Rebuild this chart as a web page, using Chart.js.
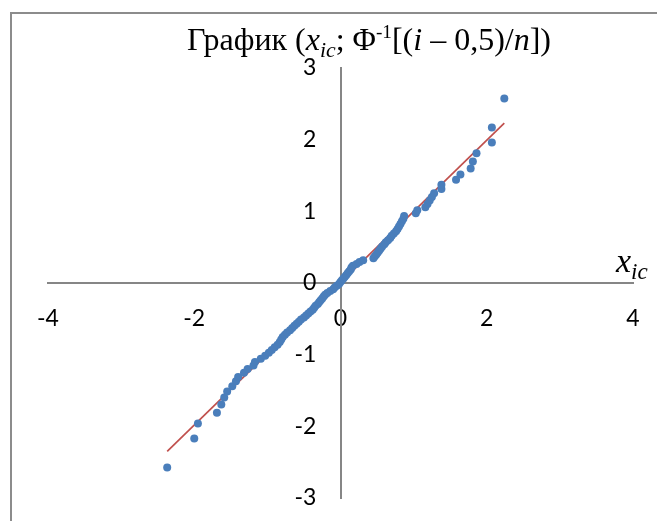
<!DOCTYPE html>
<html>
<head>
<meta charset="utf-8">
<script src="https://cdn.jsdelivr.net/npm/chart.js"></script>
<style>
  body { margin: 0; background: #fff; }
  canvas { display: block; }
</style>
</head>
<body>
<canvas id="qqChart" width="657" height="521"></canvas>
<script>
// sample values x_ic (sorted) and normal quantiles Φ^-1[(i - 0,5)/n], n = 100
var xValues = [
  -2.37, -2.00, -1.95, -1.69, -1.63, -1.59, -1.55, -1.48, -1.43, -1.40,
  -1.32, -1.27, -1.19, -1.17, -1.09, -1.03, -0.98, -0.94, -0.90, -0.86,
  -0.83, -0.81, -0.79, -0.76, -0.73, -0.69, -0.66, -0.63, -0.60, -0.57,
  -0.54, -0.50, -0.47, -0.44, -0.41, -0.38, -0.36, -0.34, -0.31, -0.29,
  -0.27, -0.25, -0.23, -0.21, -0.18, -0.14, -0.10, -0.08, -0.05, -0.02,
  0.00, 0.02, 0.04, 0.06, 0.08, 0.10, 0.12, 0.14, 0.15, 0.17,
  0.22, 0.26, 0.31, 0.45, 0.47, 0.49, 0.51, 0.53, 0.55, 0.57,
  0.60, 0.62, 0.65, 0.68, 0.70, 0.73, 0.76, 0.78, 0.80, 0.82,
  0.84, 0.86, 0.87, 1.03, 1.05, 1.16, 1.19, 1.22, 1.25, 1.28,
  1.38, 1.38, 1.58, 1.64, 1.78, 1.81, 1.86, 2.07, 2.07, 2.24
];
var yValues = [
  -2.576, -2.170, -1.960, -1.812, -1.695, -1.598, -1.514, -1.440, -1.372, -1.311,
  -1.254, -1.200, -1.150, -1.103, -1.058, -1.015, -0.974, -0.935, -0.896, -0.860,
  -0.824, -0.789, -0.755, -0.722, -0.690, -0.659, -0.628, -0.598, -0.568, -0.539,
  -0.510, -0.482, -0.454, -0.426, -0.399, -0.372, -0.345, -0.319, -0.292, -0.266,
  -0.240, -0.215, -0.189, -0.164, -0.138, -0.113, -0.088, -0.063, -0.038, -0.013,
  0.013, 0.038, 0.063, 0.088, 0.113, 0.138, 0.164, 0.189, 0.215, 0.240,
  0.266, 0.292, 0.319, 0.345, 0.372, 0.399, 0.426, 0.454, 0.482, 0.510,
  0.539, 0.568, 0.598, 0.628, 0.659, 0.690, 0.722, 0.755, 0.789, 0.824,
  0.860, 0.896, 0.935, 0.974, 1.015, 1.058, 1.103, 1.150, 1.200, 1.254,
  1.311, 1.372, 1.440, 1.514, 1.598, 1.695, 1.812, 1.960, 2.170, 2.576
];
// linear trend line end points
var trendX = [-2.37, 2.24];
var trendY = [-2.35, 2.23];

var xTicks = [-4, -2, 0, 2, 4];
var yTicks = [-3, -2, -1, 0, 1, 2, 3];

// title and axis caption pieces: [text, style]
var titleParts = [
  ["График (", ""], ["x", "i"], ["ic", "sub"], ["; Φ", ""], ["-1", "sup"],
  ["[(", ""], ["i", "i"], [" – 0,5)/", ""], ["n", "i"], ["])", ""]
];
var axisParts = [["x", "i"], ["ic", "sub"]];

function toPoints(xs, ys) {
  return xs.map(function (x, i) { return { x: x, y: ys[i] }; });
}

function partFont(style, size) {
  var s = size, it = style === "i" || style === "sub";
  if (style === "sub") s = size * 0.68;
  if (style === "sup") s = size * 0.6;
  return (it ? "italic " : "") + s.toFixed(1) + "px 'Liberation Serif', 'Times New Roman', serif";
}

function drawRich(ctx, parts, x, baseline, size, align) {
  var widths = parts.map(function (p) {
    ctx.font = partFont(p[1], size);
    return ctx.measureText(p[0]).width;
  });
  var total = widths.reduce(function (a, b) { return a + b; }, 0);
  var cx = align === "center" ? x - total / 2 : x;
  ctx.fillStyle = "#000";
  ctx.textBaseline = "alphabetic";
  ctx.textAlign = "left";
  parts.forEach(function (p, i) {
    var dy = 0;
    if (p[1] === "sub") dy = size * 0.22;
    if (p[1] === "sup") dy = -size * 0.36;
    ctx.font = partFont(p[1], size);
    ctx.fillText(p[0], cx, baseline + dy);
    cx += widths[i];
  });
}

var decorations = {
  id: "decorations",
  beforeDraw: function (chart) {
    var ctx = chart.ctx;
    ctx.save();
    ctx.strokeStyle = "#8c8c8c";
    ctx.lineWidth = 2;
    ctx.beginPath();
    ctx.moveTo(11, 521);
    ctx.lineTo(11, 13);
    ctx.lineTo(657, 13);
    ctx.stroke();
    ctx.restore();
  },
  afterDraw: function (chart) {
    var ctx = chart.ctx;
    ctx.save();
    drawRich(ctx, titleParts, 369, 50, 32, "center");
    drawRich(ctx, axisParts, 616, 272, 34, "left");
    ctx.restore();
  }
};

var tickFont = { family: "Lato, 'Open Sans', sans-serif", size: 23 };

// centred axes must not eat layout space
function noSpace(s) {
  if (s.isHorizontal()) s.height = 0; else s.width = 0;
  s.paddingLeft = s.paddingRight = s.paddingTop = s.paddingBottom = 0;
}

new Chart("qqChart", {
  type: "scatter",
  data: {
    datasets: [{
      data: toPoints(xValues, yValues),
      backgroundColor: "#4a7ebb",
      borderColor: "#4a7ebb",
      borderWidth: 0,
      pointRadius: 4
    }, {
      data: toPoints(trendX, trendY),
      showLine: true,
      borderColor: "#c0504d",
      borderWidth: 1.7,
      pointRadius: 0
    }]
  },
  options: {
    responsive: false,
    animation: false,
    layout: { padding: { left: 48, right: 24, top: 68, bottom: 23 } },
    plugins: {
      legend: { display: false },
      tooltip: { enabled: false },
      title: { display: false }
    },
    scales: {
      x: {
        type: "linear",
        position: { y: 0 },
        min: -4, max: 4,
        afterBuildTicks: function (s) { s.ticks = xTicks.map(function (v) { return { value: v }; }); },
        afterFit: noSpace,
        grid: { display: false, drawTicks: false },
        border: { display: true, color: "#868686", width: 2 },
        ticks: { color: "#000", font: tickFont, padding: 22, maxRotation: 0 }
      },
      y: {
        type: "linear",
        position: { x: 0 },
        min: -3, max: 3,
        afterBuildTicks: function (s) { s.ticks = yTicks.map(function (v) { return { value: v }; }); },
        afterFit: noSpace,
        grid: { display: false, drawTicks: false },
        border: { display: true, color: "#868686", width: 2 },
        ticks: { display: false }
      },
      // label column for the vertical axis, set a little left of x = 0
      yLabels: {
        type: "linear",
        position: { x: -0.33 },
        min: -3, max: 3,
        afterBuildTicks: function (s) { s.ticks = yTicks.map(function (v) { return { value: v }; }); },
        afterFit: noSpace,
        grid: { display: false, drawTicks: false },
        border: { display: false },
        ticks: { color: "#000", font: tickFont, padding: 0 }
      }
    }
  },
  plugins: [decorations]
});
</script>
</body>
</html>
